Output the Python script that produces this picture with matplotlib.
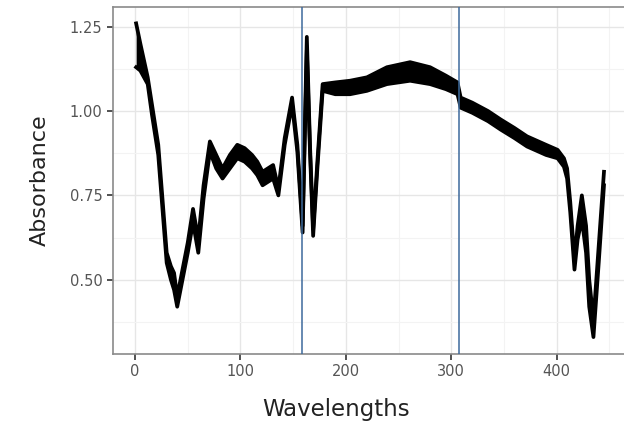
import matplotlib
matplotlib.use("Agg")
import matplotlib.pyplot as plt

# wavelength index and the upper / lower edge of the bundle of spectra
wavelengths = [1, 5, 12, 16, 22, 27, 30, 34, 37, 40, 45, 50, 55, 60, 65, 71, 77, 83,
               90, 97, 104, 111, 116, 121, 126, 131, 136, 142, 149, 154, 159, 163,
               166, 169, 173, 178, 190, 204, 220, 239, 261, 280, 295, 306, 309, 320,
               335, 347, 360, 372, 390, 401, 407, 410, 413, 417, 420, 424, 428, 431,
               435, 440, 445]
absorb_upper = [1.26, 1.20, 1.10, 1.02, 0.90, 0.70, 0.58, 0.54, 0.52, 0.45, 0.53, 0.61,
                0.71, 0.62, 0.78, 0.91, 0.87, 0.83, 0.87, 0.90, 0.89, 0.87, 0.85, 0.82,
                0.83, 0.84, 0.77, 0.92, 1.04, 0.90, 0.66, 1.22, 0.90, 0.65, 0.85, 1.08,
                1.085, 1.09, 1.10, 1.13, 1.145, 1.13, 1.105, 1.085, 1.04, 1.025, 1.00,
                0.975, 0.95, 0.925, 0.90, 0.885, 0.86, 0.83, 0.73, 0.56, 0.66, 0.75,
                0.66, 0.50, 0.38, 0.60, 0.82]
absorb_lower = [1.13, 1.12, 1.08, 0.99, 0.87, 0.67, 0.55, 0.50, 0.47, 0.42, 0.50, 0.58,
                0.67, 0.58, 0.74, 0.88, 0.83, 0.80, 0.83, 0.86, 0.85, 0.83, 0.81, 0.78,
                0.79, 0.80, 0.75, 0.90, 1.02, 0.88, 0.64, 1.18, 0.88, 0.63, 0.83, 1.06,
                1.05, 1.05, 1.06, 1.08, 1.09, 1.08, 1.065, 1.05, 1.01, 0.995, 0.97,
                0.945, 0.92, 0.895, 0.87, 0.86, 0.835, 0.80, 0.70, 0.53, 0.62, 0.68,
                0.58, 0.42, 0.33, 0.55, 0.78]
vlines = [158.5, 307]

fig = plt.figure(figsize=(6.24, 4.29), dpi=100)
ax = fig.add_axes([0.181, 0.175, 0.819, 0.809])

ax.fill_between(wavelengths, absorb_lower, absorb_upper, color="black", lw=0, zorder=3)
ax.plot(wavelengths, absorb_upper, color="black", lw=2.7, zorder=3)
ax.plot(wavelengths, absorb_lower, color="black", lw=2.7, zorder=3)

for v in vlines:
    ax.axvline(v, color="#3d6a9c", lw=1.1, zorder=4)

ax.set_xlim(-21, 464)
ax.set_ylim(0.28, 1.309)
ax.set_xticks([0, 100, 200, 300, 400])
ax.set_yticks([0.50, 0.75, 1.00, 1.25])
ax.set_yticklabels(["0.50", "0.75", "1.00", "1.25"])
ax.set_xticks([50, 150, 250, 350, 450], minor=True)
ax.set_yticks([0.375, 0.625, 0.875, 1.125], minor=True)

ax.grid(True, which="major", color="#e6e6e6", lw=1.0, zorder=0)
ax.grid(True, which="minor", color="#f3f3f3", lw=0.8, zorder=0)
ax.set_axisbelow(True)
ax.tick_params(which="minor", length=0)
ax.tick_params(which="major", length=4, width=1.2, color="#333333",
               labelsize=10.5, labelcolor="#555555")

for s in ax.spines.values():
    s.set_color("#8a8a8a")
    s.set_linewidth(1.2)
ax.spines["right"].set_visible(False)

ax.set_xlabel("Wavelengths", fontsize=16.5, color="#222222")
ax.set_ylabel("Absorbance", fontsize=16, color="#222222")
ax.xaxis.set_label_coords(0.436, -0.161)
ax.xaxis.label.set_va("center")
ax.yaxis.set_label_coords(-0.143, 0.5)
ax.yaxis.label.set_va("center")

fig.savefig("out.png", dpi=100)
